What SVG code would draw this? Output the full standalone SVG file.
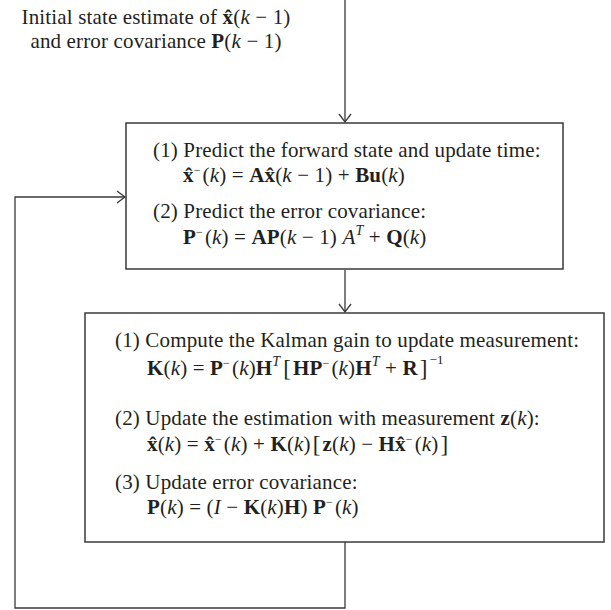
<svg xmlns="http://www.w3.org/2000/svg" width="611" height="610" viewBox="0 0 611 610">
<style>
text{font-family:"Liberation Serif","Times New Roman",serif;font-size:21px;fill:#231f20;letter-spacing:0.15px}
.b{font-weight:bold}
.i{font-style:italic}
.br{font-size:23px}
.box{fill:#fff;stroke:#3a3a3a;stroke-width:1.5}
.ln{fill:none;stroke:#3a3a3a;stroke-width:1.3}
</style>
<defs>
<marker id="ah" markerUnits="userSpaceOnUse" markerWidth="20" markerHeight="20" refX="0" refY="0" viewBox="-10 -10 20 20" orient="auto">
<path d="M-8,-6 L0,0 L-8,6" fill="none" stroke="#3a3a3a" stroke-width="1.3"/>
</marker>
</defs>
<g id="connectors">
<line class="ln" x1="345" y1="0" x2="345" y2="122" marker-end="url(#ah)"/>
<line class="ln" x1="345" y1="270" x2="345" y2="312" marker-end="url(#ah)"/>
<polyline class="ln" points="345,542 345,608 15,608 15,197 125,197" marker-end="url(#ah)"/>
</g>
<g id="initial">
<text x="156" y="24" text-anchor="middle">Initial state estimate of <tspan class="b">x̂</tspan>(<tspan class="i">k</tspan> − 1)</text>
<text x="156" y="48" text-anchor="middle">and error covariance <tspan class="b">P</tspan>(<tspan class="i">k</tspan> − 1)</text>
</g>
<g id="predict">
<rect class="box" x="126" y="123" width="437" height="146"/>
<text x="153" y="157">(1) Predict the forward state and update time:</text>
<text x="183" y="182"><tspan class="b">x̂</tspan><tspan dy="-8" font-size="12">−</tspan><tspan dy="8" dx="2">(</tspan><tspan class="i">k</tspan>) = <tspan class="b">Ax̂</tspan>(<tspan class="i">k</tspan> − 1) + <tspan class="b">Bu</tspan>(<tspan class="i">k</tspan>)</text>
<text x="153" y="218">(2) Predict the error covariance:</text>
<text x="183" y="244"><tspan class="b">P</tspan><tspan dy="-8" font-size="12">−</tspan><tspan dy="8" dx="2">(</tspan><tspan class="i">k</tspan>) = <tspan class="b">AP</tspan>(<tspan class="i">k</tspan> − 1) <tspan class="i">A</tspan><tspan class="i" dy="-9" font-size="14">T</tspan><tspan dy="9"> + </tspan><tspan class="b">Q</tspan>(<tspan class="i">k</tspan>)</text>
</g>
<g id="update">
<rect class="box" x="85" y="313" width="519" height="229"/>
<text x="115" y="347">(1) Compute the Kalman gain to update measurement:</text>
<text x="147" y="375"><tspan class="b">K</tspan>(<tspan class="i">k</tspan>) = <tspan class="b">P</tspan><tspan dy="-8" font-size="12">−</tspan><tspan dy="8" dx="2">(</tspan><tspan class="i">k</tspan>)<tspan class="b">H</tspan><tspan class="i" dy="-9" font-size="14">T</tspan><tspan class="br" dy="10" dx="3">[</tspan><tspan dy="-1" dx="2" class="b">HP</tspan><tspan dy="-8" font-size="12">−</tspan><tspan dy="8" dx="2">(</tspan><tspan class="i">k</tspan>)<tspan class="b">H</tspan><tspan class="i" dy="-9" font-size="14">T</tspan><tspan dy="9"> + </tspan><tspan class="b">R</tspan><tspan class="br" dy="1" dx="2">]</tspan><tspan dy="-12" dx="2" font-size="13">−1</tspan></text>
<text x="115" y="425">(2) Update the estimation with measurement <tspan class="b">z</tspan>(<tspan class="i">k</tspan>):</text>
<text x="147" y="451"><tspan class="b">x̂</tspan>(<tspan class="i">k</tspan>) = <tspan class="b">x̂</tspan><tspan dy="-8" font-size="12">−</tspan><tspan dy="8" dx="2">(</tspan><tspan class="i">k</tspan>) + <tspan class="b">K</tspan>(<tspan class="i">k</tspan>)<tspan class="br" dy="1" dx="2">[</tspan><tspan dy="-1" dx="2" class="b">z</tspan>(<tspan class="i">k</tspan>) − <tspan class="b">Hx̂</tspan><tspan dy="-8" font-size="12">−</tspan><tspan dy="8" dx="2">(</tspan><tspan class="i">k</tspan>)<tspan class="br" dy="1" dx="2">]</tspan></text>
<text x="115" y="489">(3) Update error covariance:</text>
<text x="147" y="514"><tspan class="b">P</tspan>(<tspan class="i">k</tspan>) = (<tspan class="i">I</tspan> − <tspan class="b">K</tspan>(<tspan class="i">k</tspan>)<tspan class="b">H</tspan>) <tspan class="b">P</tspan><tspan dy="-8" font-size="12">−</tspan><tspan dy="8" dx="2">(</tspan><tspan class="i">k</tspan>)</text>
</g>
</svg>
